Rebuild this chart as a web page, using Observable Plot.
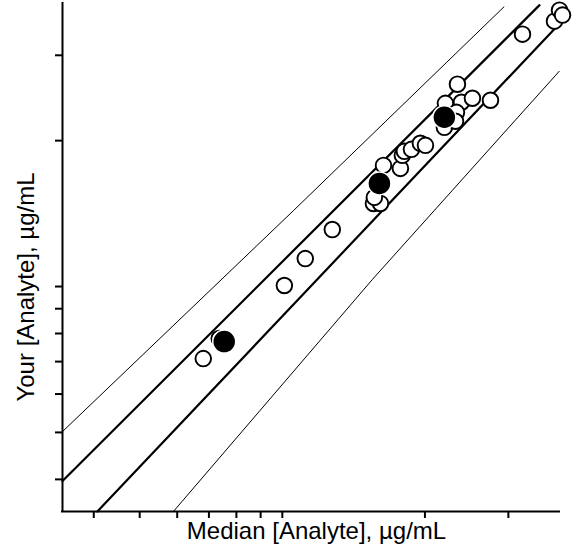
<!DOCTYPE html>
<html>
<head>
<meta charset="utf-8">
<script src="https://cdn.jsdelivr.net/npm/d3@7"></script>
<script src="https://cdn.jsdelivr.net/npm/@observablehq/plot@0.6"></script>
<style>
  html, body { margin: 0; padding: 0; background: white; }
</style>
</head>
<body>
<div id="chart"></div>
<script>
// Axis domains and ticks (log scales, µg/mL)
const xDomain = [3.436, 38.46];
const yDomain = [3.434, 38.37];
const xTicks = [4, 5, 6, 7, 8, 9, 10, 20, 30];
const yTicks = [4, 5, 6, 7, 8, 9, 10, 20, 30];

// Open circles: laboratory results
const openX = [6.81, 7.36, 10.10, 11.18, 12.75, 15.57, 16.11, 15.64, 16.35, 17.75, 17.92, 18.10, 18.73, 19.56, 20.05, 22.09, 21.98, 23.42, 23.88, 25.19, 23.31, 23.20, 27.50, 32.13, 37.53, 38.46, 39.03];
const openY = [7.10, 7.81, 10.05, 11.42, 13.11, 14.84, 14.84, 15.27, 17.78, 17.53, 18.65, 19.01, 19.19, 19.75, 19.56, 23.88, 21.31, 26.15, 24.00, 24.46, 22.88, 21.93, 24.23, 33.17, 35.28, 37.17, 36.31];

// Filled circles: your results
const yourX = [7.54, 16.03, 21.98];
const yourY = [7.70, 16.32, 22.35];

// Limit lines
const upperOuterX = [3.436, 10.57, 29.36];
const upperOuterY = [5.02, 14.36, 37.76];
const upperInnerX = [3.436, 34.9];
const upperInnerY = [3.97, 38.07];
const lowerInnerX = [4.07, 38.4];
const lowerInnerY = [3.434, 34.8];
const lowerOuterX = [5.89, 15.49, 38.4];
const lowerOuterY = [3.434, 10.34, 27.8];

const xLabel = "Median [Analyte], µg/mL";
const yLabel = "Your [Analyte], µg/mL";

const pts = (xs, ys) => xs.map((x, i) => ({x, y: ys[i]}));
const openData = pts(openX, openY);
const yourData = pts(yourX, yourY);

const chart = Plot.plot({
  width: 574,
  height: 558,
  marginLeft: 62,
  marginRight: 15,
  marginTop: 3,
  marginBottom: 47,
  style: {background: "white", fontFamily: "'Liberation Sans', Arial, sans-serif"},
  x: {type: "log", domain: xDomain},
  y: {type: "log", domain: yDomain},
  marks: [
    Plot.line(pts(upperOuterX, upperOuterY), {x: "x", y: "y", stroke: "black", strokeWidth: 1}),
    Plot.line(pts(lowerOuterX, lowerOuterY), {x: "x", y: "y", stroke: "black", strokeWidth: 1}),
    Plot.line(pts(upperInnerX, upperInnerY), {x: "x", y: "y", stroke: "black", strokeWidth: 2.2}),
    Plot.line(pts(lowerInnerX, lowerInnerY), {x: "x", y: "y", stroke: "black", strokeWidth: 2.2}),
    Plot.axisX(xTicks, {tickSize: 7, strokeWidth: 2, tickFormat: () => "", label: null}),
    Plot.axisY(yTicks, {tickSize: 7, strokeWidth: 2, tickFormat: () => "", label: null}),
    Plot.ruleX([xDomain[0]], {stroke: "black", strokeWidth: 2, strokeLinecap: "square"}),
    Plot.ruleY([yDomain[0]], {stroke: "black", strokeWidth: 2, strokeLinecap: "square"}),
    Plot.dot(openData, {x: "x", y: "y", r: 7.8, fill: "white", stroke: "black", strokeWidth: 1.9}),
    Plot.dot(yourData, {x: "x", y: "y", r: 11.5, fill: "black", stroke: "white", strokeWidth: 1.5})
  ]
});

const svg = d3.select(chart);
svg.append("text")
  .attr("x", 316.5).attr("y", 539)
  .attr("text-anchor", "middle")
  .attr("font-size", 24)
  .attr("fill", "black")
  .text(xLabel);
svg.append("text")
  .attr("transform", "translate(33.5,287) rotate(-90)")
  .attr("text-anchor", "middle")
  .attr("font-size", 24)
  .attr("fill", "black")
  .text(yLabel);

document.getElementById("chart").appendChild(chart);
</script>
</body>
</html>
